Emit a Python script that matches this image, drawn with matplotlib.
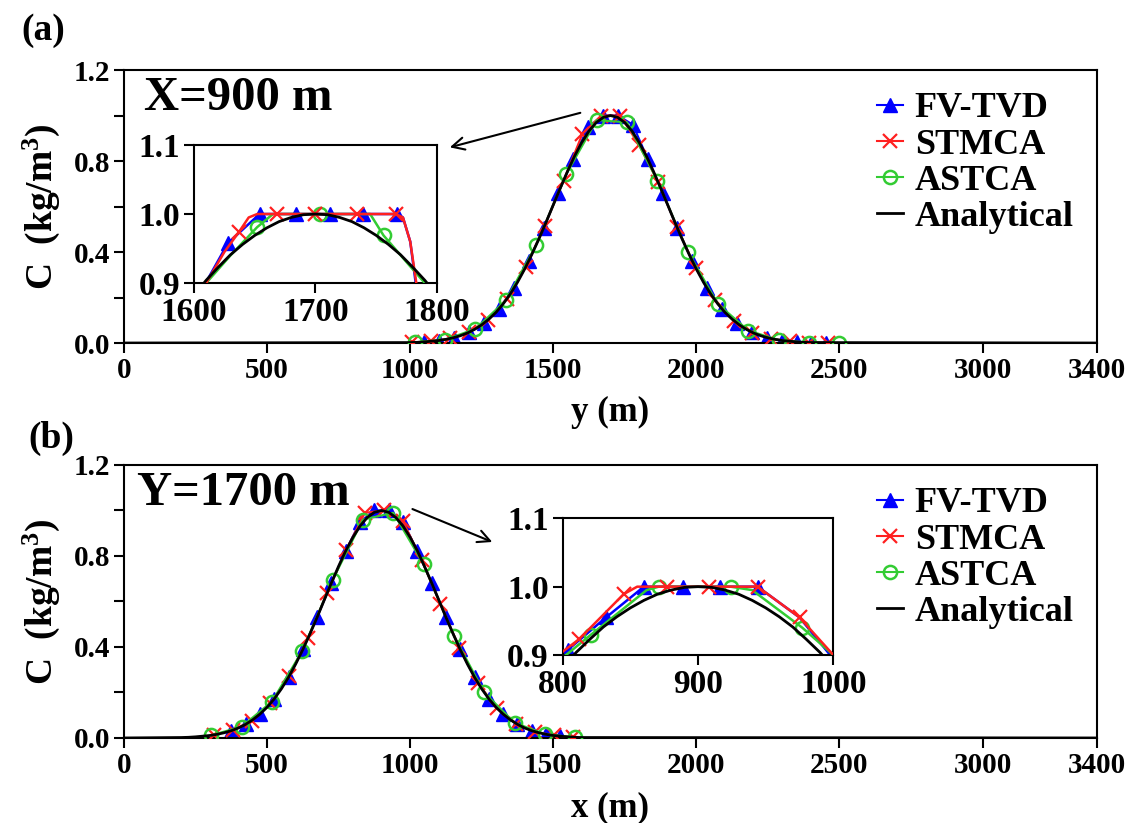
import matplotlib.pyplot as plt

plt.rcParams["font.family"] = ["Liberation Serif", "DejaVu Serif"]
plt.rcParams["font.weight"] = "bold"
plt.rcParams["axes.labelweight"] = "bold"
plt.rcParams["mathtext.fontset"] = "custom"
plt.rcParams["mathtext.rm"] = "Liberation Serif:bold"
plt.rcParams["mathtext.it"] = "Liberation Serif:bold"
plt.rcParams["mathtext.bf"] = "Liberation Serif:bold"

BLUE = "#0000ff"
RED = "#ff2020"
GREEN = "#33cc33"

# analytical profile, sampled every 25 m from -700 m to +700 m about the peak
ana_profile = [0.002, 0.003, 0.005, 0.008, 0.011, 0.016, 0.023, 0.032, 0.044,
               0.060, 0.080, 0.105, 0.135, 0.172, 0.216, 0.267, 0.325, 0.389,
               0.458, 0.531, 0.607, 0.682, 0.755, 0.823, 0.882, 0.932, 0.969,
               0.992, 1.000, 0.992, 0.969, 0.932, 0.882, 0.823, 0.755, 0.682,
               0.607, 0.531, 0.458, 0.389, 0.325, 0.267, 0.216, 0.172, 0.135,
               0.105, 0.080, 0.060, 0.044, 0.032, 0.023, 0.016, 0.011, 0.008,
               0.005, 0.003, 0.002]
# finer sampling near the peak (every 10 m, -100 m to +100 m)
ana_peak = [0.882, 0.904, 0.923, 0.941, 0.956, 0.969, 0.980, 0.989, 0.995,
            0.999, 1.000, 0.999, 0.995, 0.989, 0.980, 0.969, 0.956, 0.941,
            0.923, 0.904, 0.882]

ana_a_pos = [0] + list(range(1000, 2401, 25)) + [3400]
ana_b_pos = [0] + list(range(200, 1601, 25)) + [3400]
ana_a_val = [0.0] + ana_profile + [0.0]
ana_b_val = [0.0] + ana_profile + [0.0]
ana_a_zoom_pos = list(range(1600, 1801, 10))
ana_b_zoom_pos = list(range(800, 1001, 10))

# (a) section X = 900 m
fv_a_y = [1050, 1102, 1154, 1206, 1258, 1310, 1362, 1414, 1466, 1518, 1570,
          1622, 1674, 1726, 1778, 1830, 1882, 1934, 1986, 2038, 2090, 2142,
          2194, 2246, 2298, 2350, 2402, 2454]
fv_a_c = [0.005, 0.011, 0.024, 0.047, 0.087, 0.149, 0.240, 0.360, 0.504,
          0.661, 0.810, 0.950, 1.000, 1.000, 0.960, 0.810, 0.661, 0.504,
          0.360, 0.240, 0.149, 0.087, 0.047, 0.024, 0.011, 0.005, 0.002, 0.001]
st_a_y = [1008, 1074, 1140, 1206, 1272, 1338, 1404, 1470, 1536, 1602, 1668,
          1734, 1800, 1866, 1932, 1998, 2064, 2130, 2196, 2262, 2328, 2394, 2460]
st_a_c = [0.003, 0.008, 0.020, 0.047, 0.101, 0.194, 0.334, 0.516, 0.714,
          0.920, 1.000, 1.000, 0.870, 0.709, 0.510, 0.330, 0.191, 0.099,
          0.046, 0.019, 0.007, 0.002, 0.001]
as_a_y = [1016, 1122, 1228, 1334, 1440, 1546, 1652, 1758, 1864, 1970, 2076,
          2182, 2288, 2394, 2500]
as_a_c = [0.003, 0.015, 0.062, 0.187, 0.430, 0.743, 0.980, 0.970, 0.714,
          0.402, 0.171, 0.055, 0.013, 0.002, 0.000]

# (a) zoom on the plateau
fv_a_zoom_y = [1600, 1628, 1654, 1684, 1712, 1739, 1767, 1772, 1778, 1784]
fv_a_zoom_c = [0.870, 0.958, 1.000, 1.000, 1.000, 1.000, 1.000, 0.995, 0.960, 0.880]
fv_a_zoom_mk = [1, 2, 3, 4, 5, 6]
st_a_zoom_y = [1600, 1610, 1625, 1637, 1645, 1652, 1668, 1700, 1734, 1766,
               1772, 1778, 1783, 1788]
st_a_zoom_c = [0.860, 0.900, 0.945, 0.974, 0.995, 1.000, 1.000, 1.000, 1.000,
               1.000, 0.995, 0.960, 0.900, 0.850]
st_a_zoom_mk = [3, 6, 7, 8, 9]
as_a_zoom_y = [1600, 1630, 1652, 1665, 1704, 1745, 1756, 1780, 1800]
as_a_zoom_c = [0.880, 0.940, 0.981, 1.000, 1.000, 1.000, 0.969, 0.920, 0.880]
as_a_zoom_mk = [2, 4, 6]

# (b) section Y = 1700 m
fv_b_x = [375, 425, 475, 525, 575, 625, 675, 725, 775, 825, 875, 925, 975,
          1025, 1075, 1125, 1175, 1225, 1275, 1325, 1375, 1425, 1475, 1525]
fv_b_c = [0.032, 0.060, 0.105, 0.172, 0.267, 0.389, 0.531, 0.682, 0.823,
          0.950, 1.000, 1.000, 0.950, 0.823, 0.682, 0.531, 0.389, 0.267,
          0.172, 0.105, 0.060, 0.032, 0.016, 0.008]
st_b_x = [314, 380, 446, 512, 578, 644, 710, 776, 842, 908, 974, 1040, 1106,
          1172, 1238, 1304, 1370, 1436, 1502, 1568]
st_b_c = [0.014, 0.034, 0.076, 0.152, 0.274, 0.441, 0.637, 0.825, 0.990,
          1.000, 0.955, 0.783, 0.588, 0.397, 0.240, 0.130, 0.063, 0.028,
          0.011, 0.004]
as_b_x = [305, 411, 517, 623, 729, 835, 941, 1047, 1153, 1259, 1365, 1471, 1577]
as_b_c = [0.012, 0.050, 0.160, 0.383, 0.694, 0.960, 0.990, 0.763, 0.449,
          0.200, 0.067, 0.017, 0.003]

# (b) zoom on the plateau
fv_b_zoom_x = [790, 804, 832, 860, 889, 916, 944, 975, 1010]
fv_b_zoom_c = [0.870, 0.908, 0.955, 1.000, 1.000, 1.000, 1.000, 0.955, 0.870]
fv_b_zoom_mk = [1, 2, 3, 4, 5, 6]
st_b_zoom_x = [790, 812, 845, 855, 877, 908, 944, 975, 1000, 1010]
st_b_zoom_c = [0.890, 0.923, 0.989, 1.000, 1.000, 1.000, 1.000, 0.955, 0.900, 0.880]
st_b_zoom_mk = [1, 2, 4, 5, 6, 7]
as_b_zoom_x = [790, 821, 845, 862, 871, 924, 940, 977, 1000, 1010]
as_b_zoom_c = [0.880, 0.930, 0.968, 0.995, 1.000, 1.000, 0.995, 0.940, 0.900, 0.880]
as_b_zoom_mk = [1, 4, 5, 7]

x_ticks = [0, 500, 1000, 1500, 2000, 2500, 3000, 3400]


def style_axes(ax, size=21):
    for sp in ax.spines.values():
        sp.set_linewidth(1.5)
    ax.tick_params(which="both", direction="out", length=7, width=1.5,
                   labelsize=size, top=False, right=False, pad=3)


def draw_main(ax, fv, st, asv, ana, mk=9.5):
    ax.plot(fv[0], fv[1], color=BLUE, lw=1.5, marker="^", ms=mk,
            mec=BLUE, mfc=BLUE, label="FV-TVD", zorder=2)
    ax.plot(st[0], st[1], color=RED, lw=1.5, marker="x", ms=mk, mew=1.6,
            label="STMCA", zorder=3)
    ax.plot(asv[0], asv[1], color=GREEN, lw=1.5, marker="o", ms=mk, mew=1.8,
            mfc="none", label="ASTCA", zorder=4)
    ax.plot(ana[0], ana[1], color="black", lw=2.0, label="Analytical", zorder=5)


def draw_zoom(ax, fv, st, asv, ana):
    ax.plot(fv[0], fv[1], color=BLUE, lw=1.8, marker="^", ms=9.5,
            markevery=fv[2], zorder=2)
    ax.plot(asv[0], asv[1], color=GREEN, lw=1.8, marker="o", ms=9.5, mew=1.8,
            mfc="none", markevery=asv[2], zorder=3)
    ax.plot(st[0], st[1], color=RED, lw=1.8, marker="x", ms=9.5, mew=1.6,
            markevery=st[2], zorder=4)
    ax.plot(ana[0], ana[1], color="black", lw=2.0, zorder=5)
    ax.set_ylim(0.9, 1.1)
    ax.set_yticks([0.9, 1.0, 1.1])
    ax.set_yticklabels(["0.9", "1.0", "1.1"])
    style_axes(ax, size=24)


fig = plt.figure(figsize=(11.3, 8.23), dpi=100)
ax_a = fig.add_axes([0.1097, 0.5832, 0.8611, 0.3317])
ax_b = fig.add_axes([0.1097, 0.1033, 0.8611, 0.3317])

draw_main(ax_a, (fv_a_y, fv_a_c), (st_a_y, st_a_c), (as_a_y, as_a_c),
          (ana_a_pos, ana_a_val))
draw_main(ax_b, (fv_b_x, fv_b_c), (st_b_x, st_b_c), (as_b_x, as_b_c),
          (ana_b_pos, ana_b_val))

for ax, xlab, title, tx in [(ax_a, "y (m)", "X=900 m", 0.021),
                            (ax_b, "x (m)", "Y=1700 m", 0.013)]:
    ax.set_xlim(0, 3400)
    ax.set_ylim(0, 1.2)
    ax.set_xticks(x_ticks)
    ax.set_xticklabels([str(v) for v in x_ticks])
    ax.set_yticks([0.0, 0.4, 0.8, 1.2])
    ax.set_yticklabels(["0.0", "0.4", "0.8", "1.2"])
    ax.set_yticks([0.2, 0.6, 1.0], minor=True)
    style_axes(ax)
    ax.set_xlabel(xlab, fontsize=25, labelpad=9)
    ax.set_ylabel("C  (kg/m$^3$)", fontsize=27, labelpad=8)
    ax.text(tx, 0.853, title, transform=ax.transAxes, fontsize=35,
            fontweight="bold", va="baseline", ha="left")
    ax.legend(loc="upper left", bbox_to_anchor=(0.7595, 0.972), frameon=False,
              fontsize=26, handlelength=0.7, handletextpad=0.33,
              labelspacing=0.08, borderaxespad=0.0)

ins_a = fig.add_axes([0.1717, 0.6561, 0.2150, 0.1677])
draw_zoom(ins_a, (fv_a_zoom_y, fv_a_zoom_c, fv_a_zoom_mk),
          (st_a_zoom_y, st_a_zoom_c, st_a_zoom_mk),
          (as_a_zoom_y, as_a_zoom_c, as_a_zoom_mk),
          (ana_a_zoom_pos, ana_peak))
ins_a.set_xlim(1600, 1800)
ins_a.set_xticks([1600, 1700, 1800])

ins_b = fig.add_axes([0.4980, 0.2041, 0.2395, 0.1661])
draw_zoom(ins_b, (fv_b_zoom_x, fv_b_zoom_c, fv_b_zoom_mk),
          (st_b_zoom_x, st_b_zoom_c, st_b_zoom_mk),
          (as_b_zoom_x, as_b_zoom_c, as_b_zoom_mk),
          (ana_b_zoom_pos, ana_peak))
ins_b.set_xlim(800, 1000)
ins_b.set_xticks([800, 900, 1000])

# arrows from the peaks to the zoomed views
ax_a.annotate("", xy=(1129, 0.857), xytext=(1604, 1.015),
              arrowprops=dict(arrowstyle="->", lw=1.5, color="black",
                              mutation_scale=22))
ax_b.annotate("", xy=(1296, 0.857), xytext=(999, 1.011),
              arrowprops=dict(arrowstyle="->", lw=1.5, color="black",
                              mutation_scale=22))

fig.text(0.019, 0.963, "(a)", fontsize=27, fontweight="bold", va="center")
fig.text(0.025, 0.467, "(b)", fontsize=27, fontweight="bold", va="center")

fig.savefig("out.png", dpi=100)
